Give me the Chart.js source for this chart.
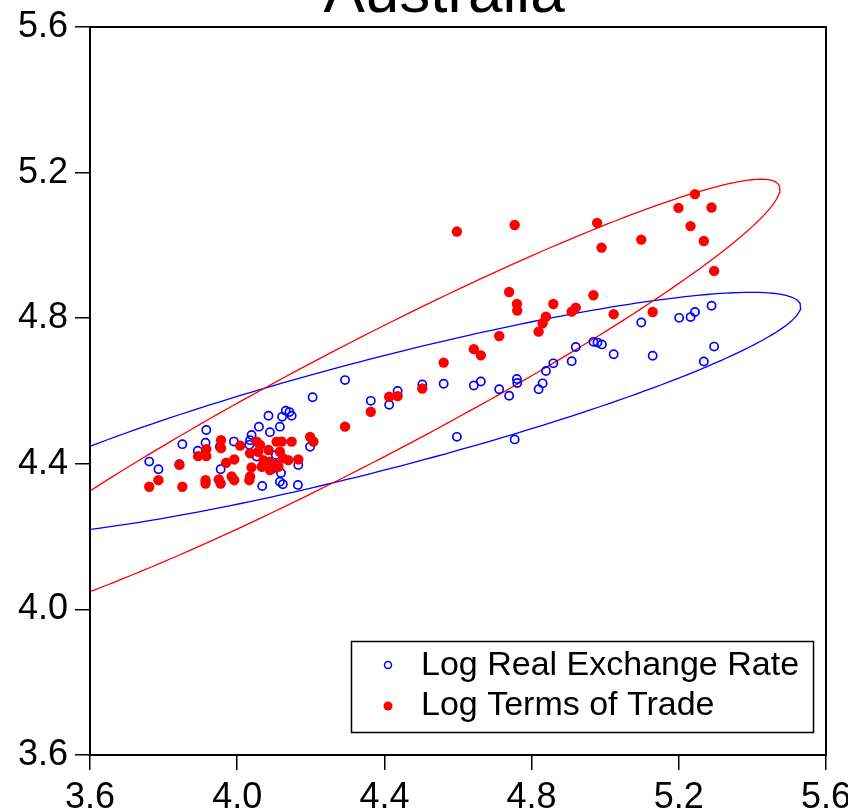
<!DOCTYPE html>
<html>
<head>
<meta charset="utf-8">
<title>Australia</title>
<script src="https://cdn.jsdelivr.net/npm/chart.js@4.4.1/dist/chart.umd.min.js"></script>
<style>
    html, body { margin: 0; padding: 0; background: #fff; }
    #wrap { width: 848px; height: 810px; }
</style>
</head>
<body>
<div id="wrap"><canvas id="scatter" width="848" height="810"></canvas></div>
<script>
// Log Real Exchange Rate (open blue circles)
const lrerX = [3.761, 3.786, 3.843, 3.851, 3.893, 3.914, 3.916, 3.953, 3.955, 3.991,
    4.033, 4.035, 4.039, 4.053, 4.059, 4.068, 4.085, 4.089, 4.094, 4.105,
    4.116, 4.116, 4.119, 4.122, 4.124, 4.132, 4.142, 4.148, 4.165, 4.166,
    4.198, 4.205,
    4.293, 4.363, 4.413, 4.436, 4.503, 4.561, 4.597, 4.643, 4.662, 4.712,
    4.739, 4.754, 4.760, 4.761, 4.819, 4.830, 4.839, 4.859, 4.909, 4.920,
    4.968, 4.979, 4.991, 5.023, 5.098, 5.129, 5.201, 5.232, 5.244, 5.268,
    5.289, 5.296];
const lrerY = [4.406, 4.385, 4.399, 4.454, 4.436, 4.458, 4.493, 4.447, 4.385, 4.461,
    4.452, 4.465, 4.479, 4.420, 4.502, 4.339, 4.532, 4.487, 4.385, 4.424,
    4.502, 4.351, 4.375, 4.529, 4.344, 4.546, 4.542, 4.532, 4.342, 4.397,
    4.447, 4.583,
    4.630, 4.573, 4.562, 4.600, 4.618, 4.620, 4.474, 4.615, 4.626, 4.605,
    4.587, 4.467, 4.633, 4.622, 4.605, 4.621, 4.655, 4.676, 4.682, 4.721,
    4.735, 4.733, 4.728, 4.701, 4.788, 4.697, 4.801, 4.803, 4.817, 4.681,
    4.834, 4.722];

// Log Terms of Trade (filled red dots)
const ltotX = [3.761, 3.786, 3.843, 3.851, 3.894, 3.914, 3.914, 3.916, 3.916, 3.950,
    3.955, 3.956, 3.956, 3.970, 3.985, 3.992, 3.992, 4.008, 4.033, 4.035,
    4.035, 4.039, 4.053, 4.057, 4.062, 4.067, 4.071, 4.085, 4.089, 4.089,
    4.107, 4.107, 4.112, 4.116, 4.121, 4.125, 4.139, 4.148, 4.166, 4.198,
    4.207,
    4.293, 4.363, 4.413, 4.436, 4.503, 4.561, 4.597, 4.643, 4.662, 4.712,
    4.739, 4.754, 4.760, 4.761, 4.819, 4.830, 4.839, 4.859, 4.909, 4.920,
    4.968, 4.978, 4.990, 5.023, 5.098, 5.129, 5.199, 5.232, 5.244, 5.268,
    5.289, 5.296];
const ltotY = [4.337, 4.355, 4.397, 4.337, 4.421, 4.355, 4.346, 4.440, 4.421, 4.357,
    4.346, 4.465, 4.443, 4.403, 4.365, 4.412, 4.355, 4.450, 4.355, 4.365,
    4.429, 4.390, 4.461, 4.433, 4.452, 4.392, 4.410, 4.438, 4.406, 4.383,
    4.461, 4.397, 4.392, 4.433, 4.461, 4.415, 4.410, 4.461, 4.412, 4.474,
    4.461,
    4.502, 4.543, 4.584, 4.586, 4.607, 4.678, 5.038, 4.715, 4.698, 4.751,
    4.872, 5.056, 4.839, 4.821, 4.763, 4.786, 4.804, 4.839, 4.818, 4.829,
    4.863, 5.062, 4.994, 4.811, 5.016, 4.817, 5.103, 5.053, 5.141, 5.012,
    5.104, 4.930];

const tickValues = [3.6, 4.0, 4.4, 4.8, 5.2, 5.6];

// moments behind the 95% ellipses
const lrerMoments = { meanX: 4.388, meanY: 4.537, sdX: 0.467, sdY: 0.1365, corr: 0.882 };
const ltotMoments = { meanX: 4.334, meanY: 4.566, sdX: 0.466, sdY: 0.2516, corr: 0.956 };

const BLUE = 'rgb(0, 0, 255)';
const RED = 'rgb(255, 0, 0)';
const FONT = "'Liberation Sans', Arial, sans-serif";

function toPoints(xs, ys) {
    return xs.map((x, i) => ({ x: x, y: ys[i] }));
}

function ellipsePoints(m) {
    const k = Math.sqrt(5.991); // chi-square(2), 95%
    const r = Math.sqrt(1 - m.corr * m.corr);
    let pts = [];
    for (let i = 0; i <= 240; i++) {
        const t = i / 240 * 2 * Math.PI;
        const c = Math.cos(t), s = Math.sin(t);
        pts.push({
            x: m.meanX + k * m.sdX * c,
            y: m.meanY + k * m.sdY * (m.corr * c + r * s)
        });
    }
    return pts;
}

function axis() {
    return {
        type: 'linear',
        min: 3.6,
        max: 5.6,
        afterBuildTicks: (scale) => {
            scale.ticks = tickValues.map(v => ({ value: v }));
        },
        ticks: {
            color: '#000',
            font: { family: FONT, size: 36 },
            padding: 6,
            callback: (v) => Number(v).toFixed(1)
        },
        grid: {
            drawOnChartArea: false,
            drawTicks: true,
            tickLength: 15,
            color: '#000',
            lineWidth: 1.5
        },
        border: { display: false }
    };
}

const xAxis = axis();
xAxis.afterFit = (scale) => {
    scale.height = 55;
    scale.paddingLeft = 0;
    scale.paddingRight = 0;
};
const yAxis = axis();
yAxis.ticks.padding = 7;
yAxis.afterFit = (scale) => {
    scale.width = 90;
    scale.paddingTop = 0;
    scale.paddingBottom = 0;
};

const framePlugin = {
    id: 'frame',
    afterDatasetsDraw(chart) {
        const a = chart.chartArea;
        const ctx = chart.ctx;
        ctx.save();
        ctx.strokeStyle = '#000';
        ctx.lineWidth = 2;
        ctx.strokeRect(a.left, a.top, a.right - a.left, a.bottom - a.top);
        ctx.restore();
    }
};

const titlePlugin = {
    id: 'cutTitle',
    afterDraw(chart) {
        const ctx = chart.ctx;
        ctx.save();
        ctx.fillStyle = '#000';
        ctx.font = '62px ' + FONT;
        ctx.textAlign = 'center';
        ctx.textBaseline = 'alphabetic';
        ctx.fillText('Australia', 444, 12);
        ctx.restore();
    }
};

const legendPlugin = {
    id: 'boxLegend',
    afterDraw(chart) {
        const ctx = chart.ctx;
        const box = { x: 351, y: 641, w: 462, h: 91 };
        ctx.save();
        ctx.fillStyle = '#fff';
        ctx.fillRect(box.x, box.y, box.w, box.h);
        ctx.strokeStyle = '#000';
        ctx.lineWidth = 1.5;
        ctx.strokeRect(box.x + 0.5, box.y + 0.5, box.w, box.h);

        ctx.font = '34px ' + FONT;
        ctx.fillStyle = '#000';
        ctx.textAlign = 'left';
        ctx.textBaseline = 'middle';
        ctx.fillText(chart.data.datasets[1].label, 421, 666);
        ctx.fillText(chart.data.datasets[0].label, 421, 706);

        ctx.beginPath();
        ctx.arc(388, 665, 3.5, 0, 2 * Math.PI);
        ctx.strokeStyle = BLUE;
        ctx.lineWidth = 1.5;
        ctx.stroke();

        ctx.beginPath();
        ctx.arc(388, 706, 4.5, 0, 2 * Math.PI);
        ctx.fillStyle = RED;
        ctx.fill();
        ctx.restore();
    }
};

const data = {
    datasets: [{
            label: 'Log Terms of Trade',
            data: toPoints(ltotX, ltotY),
            backgroundColor: RED,
            borderWidth: 0,
            pointRadius: 5.2
        }, {
            label: 'Log Real Exchange Rate',
            data: toPoints(lrerX, lrerY),
            backgroundColor: 'rgba(0, 0, 0, 0)',
            borderColor: BLUE,
            borderWidth: 1.7,
            pointRadius: 4.1
        }, {
            label: 'ellipse-tot',
            data: ellipsePoints(ltotMoments),
            showLine: true,
            borderColor: RED,
            borderWidth: 1.3,
            pointRadius: 0,
            fill: false
        }, {
            label: 'ellipse-rer',
            data: ellipsePoints(lrerMoments),
            showLine: true,
            borderColor: BLUE,
            borderWidth: 1.3,
            pointRadius: 0,
            fill: false
        }]
};

const config = {
    type: 'scatter',
    data: data,
    options: {
        responsive: false,
        animation: false,
        devicePixelRatio: 1,
        layout: { padding: { top: 27, right: 22, left: 0, bottom: 0 } },
        plugins: {
            legend: { display: false },
            title: { display: false },
            tooltip: { enabled: false }
        },
        scales: { x: xAxis, y: yAxis }
    },
    plugins: [framePlugin, titlePlugin, legendPlugin]
};

let ctx = document.getElementById('scatter').getContext('2d');
new Chart(ctx, config);
</script>
</body>
</html>
